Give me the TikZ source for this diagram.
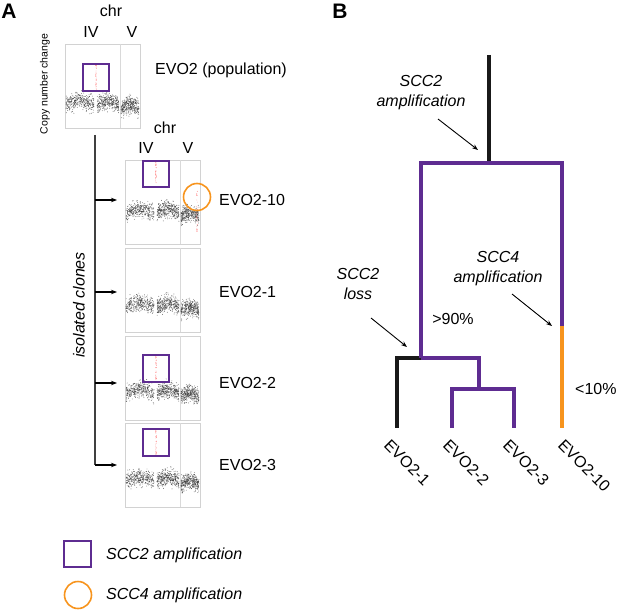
\documentclass[tikz,border=0pt]{standalone}
\usepackage{fontspec}
\setmainfont{Liberation Sans}
\usetikzlibrary{arrows.meta}

\definecolor{sccpurple}{RGB}{94,44,145}
\definecolor{sccorange}{RGB}{247,148,29}
\definecolor{dotgray}{RGB}{50,50,50}

\tikzset{
  lbl/.style={font=\fontsize{16}{19}\selectfont, inner sep=0pt},
  itlbl/.style={font=\fontsize{16}{20}\selectfont\itshape, inner sep=0pt, align=center},
  panellbl/.style={font=\fontsize{21}{24}\selectfont\bfseries, inner sep=0pt},
  frame/.style={draw=gray!35, line width=0.6pt},
  sccbox/.style={draw=sccpurple, line width=1.6pt},
  scccirc/.style={draw=sccorange, line width=1.6pt},
  branch/.style={line width=4pt, line join=miter},
  pointer/.style={-{Stealth[length=6pt,width=4.5pt]}, line width=0.9pt},
  clonearrow/.style={-{Stealth[length=6pt,width=4.5pt]}, line width=1.1pt},
  treelbl/.style={lbl, rotate=-45, anchor=north west}
}

% one copy-number panel: #1 left x, #2 top y, #3 band depth, #4 seed
\newcommand{\cnpanel}[4]{%
  \draw[frame] (#1,#2) rectangle (#1+75,#2+84);
  \draw[gray!30, line width=0.5pt] (#1+55,#2) -- (#1+55,#2+84);
  \pgfmathsetseed{#4}
  \foreach \sa/\sb/\off in {1/29/0, 32/54/0, 56/74/4}{
    \foreach \k in {1,...,360}{
      \pgfmathsetmacro{\tt}{rnd}
      \pgfmathsetmacro{\dx}{#1+\sa+(\sb-\sa)*\tt}
      \pgfmathsetmacro{\dy}{#2+#3+\off-4*sin(180*\tt)+8*(rnd+rnd+rnd-1.5)}
      \fill[dotgray, opacity=0.7] (\dx,\dy) circle (0.45pt);
    }
  }
}
% red dots of an amplified locus: #1 x, #2 from y, #3 to y
\newcommand{\ampdots}[3]{%
  \foreach \k in {1,...,35}{
    \pgfmathsetmacro{\dy}{#2+(#3-#2)*rnd}
    \pgfmathsetmacro{\dx}{#1+1.2*(rnd-0.5)}
    \fill[red!60, opacity=0.6] (\dx,\dy) circle (0.4pt);
  }
}

\begin{document}
\begin{tikzpicture}[x=1pt, y=-1pt]
  \useasboundingbox (0,0) rectangle (617,609);

  % A. copy number panels
  \node[panellbl] (labA) at (9,11) {A};
  \node[panellbl] (labB) at (340,11) {B};

  \node[lbl] (chrTop) at (111,11) {chr};
  \node[lbl] (ivTop) at (91,32) {IV};
  \node[lbl] (vTop) at (132,32) {V};
  \node[font=\fontsize{10.5}{12}\selectfont, inner sep=0pt, rotate=90] (cnc) at (45,84) {Copy number change};

  \cnpanel{65}{44}{61}{11}
  \ampdots{96}{65}{90}
  \draw[sccbox] (83,64) rectangle (109,91);
  \node[lbl, anchor=west] (evoPop) at (155,70) {EVO2 (population)};

  \node[lbl] (chrClone) at (165,128) {chr};
  \node[lbl] (ivClone) at (146,148) {IV};
  \node[lbl] (vClone) at (188,148) {V};

  \cnpanel{125}{160}{53}{21}
  \ampdots{156}{162}{186}
  \ampdots{197}{190}{236}
  \draw[sccbox] (143,161) rectangle (169,187);
  \draw[scccirc] (197,197) circle (13.5pt);

  \cnpanel{125}{248}{59}{31}
  \cnpanel{125}{336}{57}{41}
  \ampdots{156}{356}{381}
  \draw[sccbox] (143,355) rectangle (169,382);
  \cnpanel{125}{423}{58}{51}
  \ampdots{156}{430}{455}
  \draw[sccbox] (143,429) rectangle (169,456);

  \node[lbl, anchor=west] (evo10) at (219,200) {EVO2-10};
  \node[lbl, anchor=west] (evo1) at (219,292) {EVO2-1};
  \node[lbl, anchor=west] (evo2) at (219,383) {EVO2-2};
  \node[lbl, anchor=west] (evo3) at (219,465) {EVO2-3};

  % trunk and arrows to the clones
  \coordinate (trunkTop) at (95,135);
  \coordinate (trunkBot) at (95,465);
  \draw[black!75, line width=2pt] (trunkTop) -- (trunkBot);
  \foreach \yy/\nm in {200/evo10, 292/evo1, 383/evo2, 465/evo3}{
    \coordinate (arrTail) at (95,\yy);
    \coordinate (arrHead) at (117,\yy);
    \draw[clonearrow] (arrTail) -- (arrHead);
  }
  \node[itlbl, rotate=90] (isoClones) at (79,305) {isolated clones};

  % legend
  \draw[sccbox] (64,541) rectangle (91,567);
  \draw[scccirc] (78,595) circle (13.5pt);
  \node[itlbl, anchor=west] (legSCC2) at (106,555) {SCC2 amplification};
  \node[itlbl, anchor=west] (legSCC4) at (106,595) {SCC4 amplification};

  % B. lineage tree
  \coordinate (root) at (489,55);
  \coordinate (split) at (489,163);
  \coordinate (lSplit) at (421,358);
  \coordinate (subSplit) at (479,389);
  \coordinate (swap) at (562,326);

  \draw[branch, black!90] (root) -- (split);
  \draw[branch, black!90] (lSplit) -- (397,358) -- (397,428);
  \draw[branch, sccpurple] (lSplit) -- (421,163) -- (562,163) -- (swap);
  \draw[branch, sccpurple] (lSplit) -- (479,358) -- (subSplit);
  \draw[branch, sccpurple] (452,428) -- (452,389) -- (514,389) -- (514,428);
  \draw[branch, sccorange] (swap) -- (562,428);

  \node[treelbl] (leaf1) at (391,438) {EVO2-1};
  \node[treelbl] (leaf2) at (450,438) {EVO2-2};
  \node[treelbl] (leaf3) at (510,438) {EVO2-3};
  \node[treelbl] (leaf10) at (565,438) {EVO2-10};

  \node[lbl] (pctHigh) at (453,319) {>90\%};
  \node[lbl, anchor=west] (pctLow) at (575,389) {<10\%};

  % events along the branches
  \node[itlbl] (evAmp2) at (421,93) {SCC2\\amplification};
  \coordinate (tipAmp2) at (478,150);
  \draw[pointer] (438,119) -- (tipAmp2);

  \node[itlbl] (evLoss) at (358,284) {SCC2\\loss};
  \coordinate (tipLoss) at (407,347);
  \draw[pointer] (371,318) -- (tipLoss);

  \node[itlbl] (evAmp4) at (498,269) {SCC4\\amplification};
  \coordinate (tipAmp4) at (552,326);
  \draw[pointer] (512,294) -- (tipAmp4);
\end{tikzpicture}
\end{document}
